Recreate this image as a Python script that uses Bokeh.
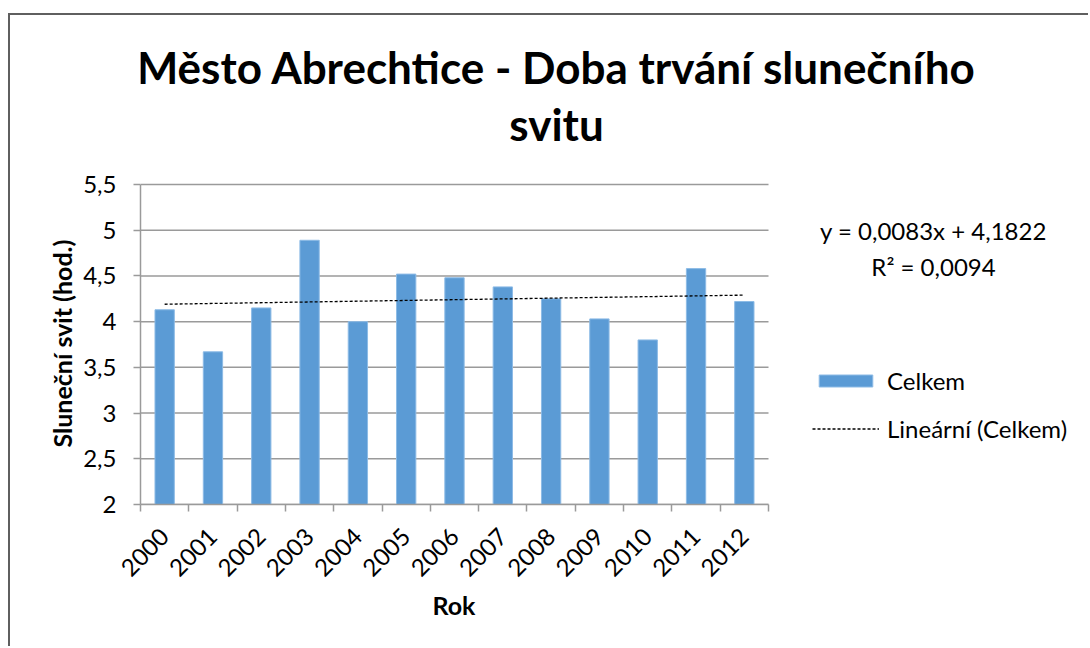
import math
from bokeh.plotting import figure
from bokeh.models import (Range1d, FixedTicker, Legend, LegendItem, Label, Title,
                          ColumnDataSource)
from bokeh.embed import file_html
from bokeh.resources import INLINE

# ---- data ----
years = ["2000", "2001", "2002", "2003", "2004", "2005", "2006",
         "2007", "2008", "2009", "2010", "2011", "2012"]
sunshine = [4.13, 3.67, 4.15, 4.89, 4.00, 4.52, 4.48, 4.38, 4.25, 4.03, 3.80, 4.58, 4.22]
y_ticks = [2, 2.5, 3, 3.5, 4, 4.5, 5, 5.5]
y_tick_labels = ["2", "2,5", "3", "3,5", "4", "4,5", "5", "5,5"]
trend_slope = 0.0083
trend_intercept = 4.1822
title_lines = ["Město Abrechtice - Doba trvání slunečního", "svitu"]
equation_lines = ["y = 0,0083x + 4,1822", "R² = 0,0094"]
series_name = "Celkem"
trend_name = "Lineární (Celkem)"
x_label = "Rok"
y_label = "Sluneční svit (hod.)"

FONT = "Lato"
GRID = "#9a9a9a"
BAR = "#5b9bd5"

# layout (pixels)
CANVAS_W, CANVAS_H = 1080, 633
BORDER_L, BORDER_B = 130, 144
PLOT_W, PLOT_H = 628, 320          # area holding the bars
FRAME_W = CANVAS_W - BORDER_L
FRAME_H = CANVAS_H - BORDER_B

n = len(years)
idx = list(range(1, n + 1))
bounds = [i + 0.5 for i in range(0, n + 1)]
x0, x1 = 0.5, n + 0.5
y0, y1 = y_ticks[0], y_ticks[-1]
trend_x = [idx[0], idx[-1]]
trend_y = [trend_intercept + trend_slope * x for x in trend_x]

p = figure(width=CANVAS_W, height=CANVAS_H,
           x_range=Range1d(x0, x0 + (x1 - x0) * FRAME_W / PLOT_W),
           y_range=Range1d(y0, y0 + (y1 - y0) * FRAME_H / PLOT_H),
           output_backend="svg", toolbar_location=None,
           min_border_left=BORDER_L, min_border_right=0,
           min_border_top=0, min_border_bottom=BORDER_B)
p.styles = {"margin-left": "8px", "margin-top": "13px",
            "border-left": "2px solid #5f5f5f", "border-top": "2px solid #5f5f5f"}
p.outline_line_color = None
p.background_fill_color = "white"
p.border_fill_color = "white"
p.xgrid.visible = False
p.ygrid.visible = False

# horizontal gridlines over the bar area
p.segment(x0=[x0] * len(y_ticks), x1=[x1] * len(y_ticks), y0=y_ticks, y1=y_ticks,
          line_color=GRID, line_width=1.5)

src = ColumnDataSource(dict(x=idx, top=sunshine))
bars = p.vbar(x="x", top="top", bottom=y0, width=0.4, source=src,
              fill_color=BAR, line_color="#8dbbe6", line_width=1)
trend = p.line(trend_x, trend_y, line_color="black", line_dash="3 2", line_width=1.3)

# y axis
p.yaxis.ticker = FixedTicker(ticks=y_ticks, minor_ticks=[])
p.yaxis.major_label_overrides = dict(zip(y_ticks, y_tick_labels))
p.yaxis.bounds = (y0, y1)
p.yaxis.major_tick_out = 7
p.yaxis.major_tick_in = 0
p.yaxis.major_label_standoff = 17

# x axis
p.xaxis.ticker = FixedTicker(ticks=idx, minor_ticks=bounds)
p.xaxis.major_label_overrides = dict(zip(idx, years))
p.xaxis.bounds = (x0, x1)
p.xaxis.major_label_orientation = math.pi / 4
p.xaxis.major_tick_out = 0
p.xaxis.major_tick_in = 0
p.xaxis.minor_tick_out = 7
p.xaxis.minor_tick_in = 0
p.xaxis.major_label_standoff = 21

for ax in (p.xaxis, p.yaxis):
    ax.axis_line_color = GRID
    ax.axis_line_width = 1.5
    ax.major_tick_line_color = GRID
    ax.major_tick_line_width = 1.5
    ax.minor_tick_line_color = GRID
    ax.minor_tick_line_width = 1.5
    ax.major_label_text_font = FONT
    ax.major_label_text_font_size = "24px"
    ax.major_label_text_color = "black"

# axis titles (placed over the bar area, not the whole frame)
p.add_layout(Title(text=x_label, align="left", offset=292, standoff=2,
                   text_font=FONT, text_font_size="25px", text_font_style="bold",
                   text_color="black"), "below")
p.add_layout(Title(text=y_label, align="left", offset=57, standoff=8,
                   text_font=FONT, text_font_size="25px", text_font_style="bold",
                   text_color="black"), "left")

# legend
legend = Legend(items=[LegendItem(label=series_name, renderers=[bars]),
                       LegendItem(label=trend_name, renderers=[trend])],
                location=(672, 61))
legend.background_fill_alpha = 0
legend.border_line_color = None
legend.padding = 0
legend.margin = 0
legend.spacing = 19
legend.glyph_width = 67
legend.glyph_height = 15
legend.label_standoff = 8
legend.label_text_font = FONT
legend.label_text_font_size = "24px"
legend.label_text_color = "black"
p.add_layout(legend)

# equation
for txt, yy in zip(equation_lines, [274, 238]):
    p.add_layout(Label(x=793, y=yy, x_units="screen", y_units="screen", text=txt,
                       text_align="center", text_baseline="middle",
                       text_font=FONT, text_font_size="24px", text_color="black"))

# title
for txt, yy in zip(title_lines, [438, 381]):
    p.add_layout(Label(x=416, y=yy, x_units="screen", y_units="screen", text=txt,
                       text_align="center", text_baseline="middle",
                       text_font=FONT, text_font_size="44px",
                       text_font_style="bold", text_color="black"))

open("out.html", "w").write(file_html(p, INLINE))
